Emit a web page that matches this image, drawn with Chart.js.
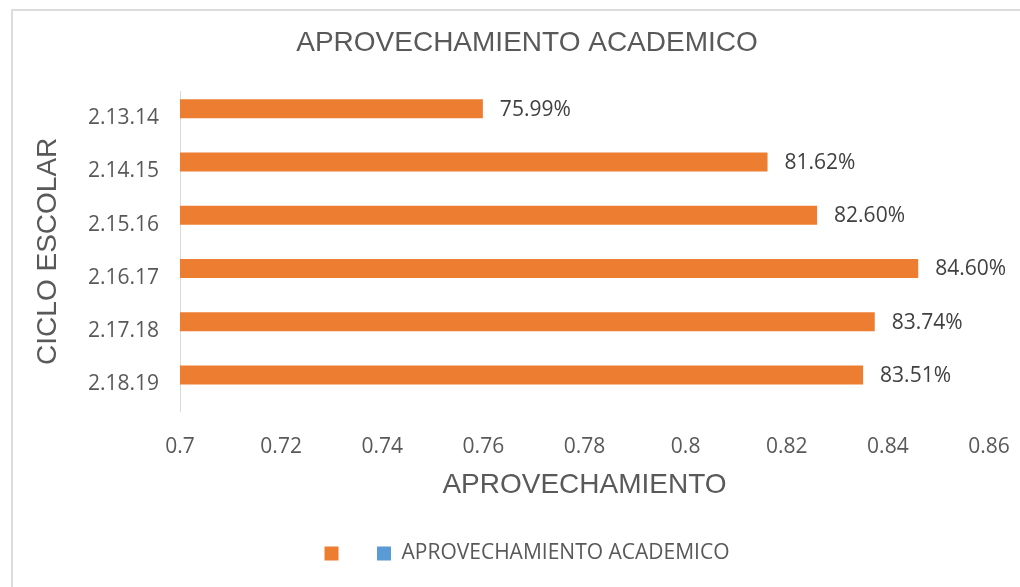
<!DOCTYPE html>
<html>
<head>
<meta charset="utf-8">
<script src="https://cdn.jsdelivr.net/npm/chart.js@4/dist/chart.umd.min.js"></script>
<style>
    html, body { margin: 0; padding: 0; background: #fff; overflow: hidden; }
    #marco {
        position: absolute; left: 11px; top: 9px; width: 1100px; height: 700px;
        border-left: 2px solid #dcdcdc; border-top: 2px solid #dcdcdc;
    }
    #grafico { position: absolute; left: 0; top: 0; }
</style>
</head>
<body>
<div id="marco"></div>
<canvas id="grafico" width="1020" height="587"></canvas>
<script>
// ===== DATOS =====
const ciclos = ['2.13.14', '2.14.15', '2.15.16', '2.16.17', '2.17.18', '2.18.19'];
const aprovechamiento = [0.7599, 0.8162, 0.8260, 0.8460, 0.8374, 0.8351];
const serieVacia = [];   // segunda serie de la leyenda, sin valores
const ejeX = { min: 0.7, max: 0.86, paso: 0.02 };

const COLOR_TEXTO = '#595959';
const FUENTE_ARIAL = "'Liberation Sans', Arial, sans-serif";
const FUENTE_CALIBRI = "'Open Sans', 'Noto Sans', sans-serif";

// etiquetas al final de cada barra
const etiquetasDatos = {
    id: 'etiquetasDatos',
    afterDatasetsDraw(chart) {
        const ctx = chart.ctx;
        const meta = chart.getDatasetMeta(0);
        ctx.save();
        ctx.font = '21px ' + FUENTE_CALIBRI;
        ctx.fillStyle = '#404040';
        ctx.textAlign = 'left';
        ctx.textBaseline = 'middle';
        meta.data.forEach((barra, i) => {
            const v = chart.data.datasets[0].data[i];
            ctx.fillText((v * 100).toFixed(2) + '%', barra.x + 17, barra.y + 1);
        });
        ctx.restore();
    }
};

const ctx = document.getElementById('grafico').getContext('2d');
new Chart(ctx, {
    type: 'bar',
    data: {
        labels: ciclos,
        datasets: [
            {
                label: '',
                data: aprovechamiento,
                backgroundColor: '#ED7D31',
                borderWidth: 0
            },
            {
                label: 'APROVECHAMIENTO ACADEMICO',
                data: serieVacia,
                backgroundColor: '#5B9BD5',
                borderWidth: 0
            }
        ]
    },
    options: {
        indexAxis: 'y',
        responsive: false,
        animation: false,
        devicePixelRatio: 1,
        categoryPercentage: 0.714,
        barPercentage: 1,
        layout: { padding: { left: 65, right: 31, top: 0, bottom: 13 } },
        plugins: {
            title: {
                display: true,
                text: 'APROVECHAMIENTO ACADEMICO',
                color: COLOR_TEXTO,
                font: { family: FUENTE_ARIAL, size: 28, weight: 'normal' },
                padding: { top: 26, bottom: 32 }
            },
            legend: {
                position: 'bottom',
                labels: {
                    color: COLOR_TEXTO,
                    font: { family: FUENTE_CALIBRI, size: 21 },
                    boxWidth: 14,
                    boxHeight: 14,
                    padding: 28
                }
            },
            tooltip: { enabled: false }
        },
        scales: {
            x: {
                type: 'linear',
                min: ejeX.min,
                max: ejeX.max,
                // sin marcas visibles; tickLength solo separa las etiquetas del eje
                grid: { display: false, drawTicks: true, tickLength: 23 },
                border: { display: false },
                ticks: {
                    stepSize: ejeX.paso,
                    color: COLOR_TEXTO,
                    padding: 0,
                    font: { family: FUENTE_CALIBRI, size: 21 },
                    callback: function(valor) {
                        return String(Number(valor.toFixed(2)));
                    }
                },
                title: {
                    display: true,
                    text: 'APROVECHAMIENTO',
                    color: COLOR_TEXTO,
                    font: { family: FUENTE_ARIAL, size: 28 },
                    padding: { top: 0, bottom: 13 }
                },
                afterFit(escala) { escala.height = 104; }
            },
            y: {
                grid: { display: false, drawTicks: false },
                border: { display: true, color: '#d9d9d9', width: 1 },
                ticks: {
                    color: COLOR_TEXTO,
                    padding: 21,
                    font: { family: FUENTE_CALIBRI, size: 21 }
                },
                title: {
                    display: true,
                    text: 'CICLO ESCOLAR',
                    color: COLOR_TEXTO,
                    font: { family: FUENTE_ARIAL, size: 28 },
                    padding: { top: -34, bottom: 0 }
                },
                afterFit(escala) { escala.width = 115; }
            }
        }
    },
    plugins: [etiquetasDatos]
});
</script>
</body>
</html>
